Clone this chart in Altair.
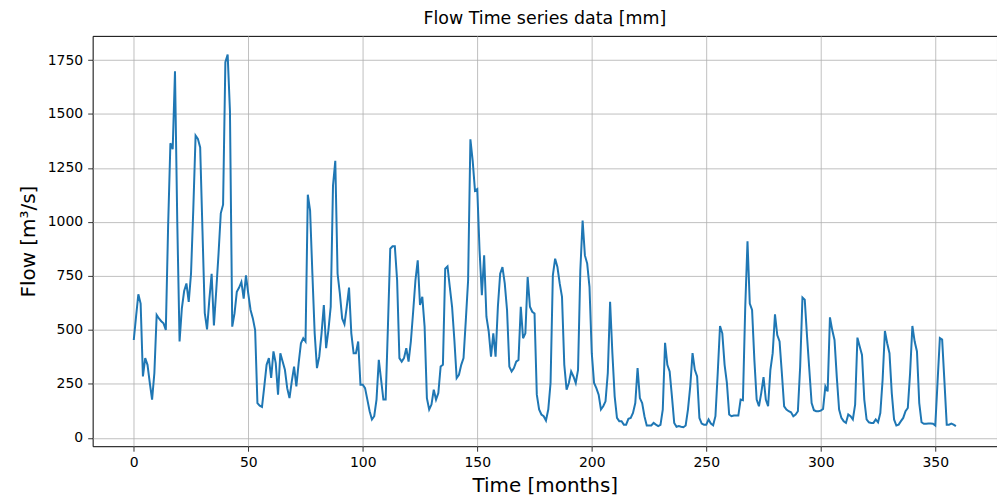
import altair as alt
import pandas as pd

# Monthly flow values (months 0..359)
flow = [
    453, 561, 665, 622, 284, 369, 338, 254, 177, 300,
    569, 553, 540, 530, 500, 980, 1365, 1337, 1698, 1000,
    446, 600, 680, 715, 630, 760, 1060, 1400, 1385, 1345,
    960, 578, 502, 640, 760, 520, 680, 850, 1040, 1080,
    1740, 1775, 1515, 515, 576, 676, 696, 722, 645, 753,
    668, 592, 553, 499, 161, 149, 143, 238, 338, 369,
    277, 400, 346, 200, 392, 353, 315, 230, 184, 261,
    330, 238, 346, 438, 461, 446, 1126, 1053, 760, 484,
    323, 376, 484, 615, 415, 499, 607, 1168, 1283, 760,
    668, 553, 527, 607, 696, 484, 392, 392, 446, 246,
    246, 230, 177, 123, 85, 100, 177, 361, 269, 177,
    177, 520, 876, 887, 887, 730, 369, 353, 369, 415,
    353, 446, 584, 730, 822, 615, 653, 515, 184, 131,
    154, 223, 177, 207, 330, 338, 784, 794, 699, 607,
    453, 277, 292, 338, 369, 545, 730, 1383, 1283, 1145,
    1152, 868, 661, 845, 561, 492, 376, 484, 376, 607,
    760, 791, 715, 592, 330, 307, 323, 353, 361, 607,
    461, 484, 745, 607, 584, 576, 200, 131, 108, 100,
    80, 131, 254, 753, 830, 791, 715, 653, 338, 223,
    254, 307, 284, 254, 315, 776, 1006, 845, 807, 699,
    392, 254, 230, 200, 131, 146, 169, 300, 630, 392,
    192, 92, 77, 77, 61, 61, 88, 92, 115, 161,
    323, 184, 161, 100, 57, 57, 57, 69, 61, 54,
    60, 130, 440, 338, 307, 192, 69, 51, 54, 51,
    49, 57, 131, 238, 392, 315, 284, 92, 66, 61,
    61, 85, 66, 58, 100, 300, 518, 484, 338, 254,
    108, 100, 103, 103, 103, 177, 174, 600, 910, 622,
    592, 361, 177, 146, 207, 281, 177, 146, 315, 392,
    572, 476, 446, 300, 146, 131, 123, 118, 100, 108,
    123, 330, 650, 640, 469, 315, 161, 128, 123, 123,
    126, 134, 238, 215, 558, 499, 453, 280, 131, 92,
    77, 69, 108, 100, 85, 154, 464, 423, 384, 177,
    85, 72, 69, 69, 85, 72, 115, 269, 495, 438,
    392, 207, 85, 57, 61, 77, 92, 123, 138, 300,
    518, 446, 400, 161, 72, 65, 65, 66, 66, 65,
    57, 260, 462, 455, 260, 61, 61, 66, 61, 54,
]
months = list(range(len(flow)))

x_ticks = [0, 50, 100, 150, 200, 250, 300, 350]
y_ticks = [0, 250, 500, 750, 1000, 1250, 1500, 1750]

df = pd.DataFrame({"month": months, "flow": flow})

FONT = "DejaVu Sans"

chart = (
    alt.Chart(df)
    .mark_line(color="#1f77b4", strokeWidth=2, clip=True)
    .encode(
        x=alt.X(
            "month:Q",
            scale=alt.Scale(domain=[-17.95, 376.95], nice=False, zero=False),
            axis=alt.Axis(values=x_ticks, title="Time [months]", format="d"),
        ),
        y=alt.Y(
            "flow:Q",
            scale=alt.Scale(domain=[-39, 1862], nice=False, zero=False),
            axis=alt.Axis(values=y_ticks, title="Flow [m³/s]", format="d"),
        ),
    )
    .properties(
        width=908,
        height=412,
        title=alt.TitleParams(
            "Flow Time series data [mm]",
            font=FONT,
            fontSize=17.5,
            fontWeight="normal",
            color="#000000",
            offset=8,
            anchor="middle",
        ),
        autosize=alt.AutoSizeParams(type="none"),
        padding={"left": 85, "top": 27, "right": 0, "bottom": 50},
    )
    .configure_view(stroke="#000000", strokeWidth=1)
    .configure_axis(
        grid=True,
        gridColor="#b0b0b0",
        gridWidth=0.8,
        domain=False,
        tickColor="#000000",
        tickSize=5,
        tickWidth=0.8,
        labelFont=FONT,
        labelFontSize=14,
        labelColor="#000000",
        titleFont=FONT,
        titleFontSize=20,
        titleFontWeight="normal",
        titleColor="#000000",
    )
    .configure_axisX(labelPadding=4, titlePadding=6)
    .configure_axisY(labelPadding=5, titlePadding=9)
)

chart.save("out.html", embed_options={"renderer": "svg", "actions": False})
